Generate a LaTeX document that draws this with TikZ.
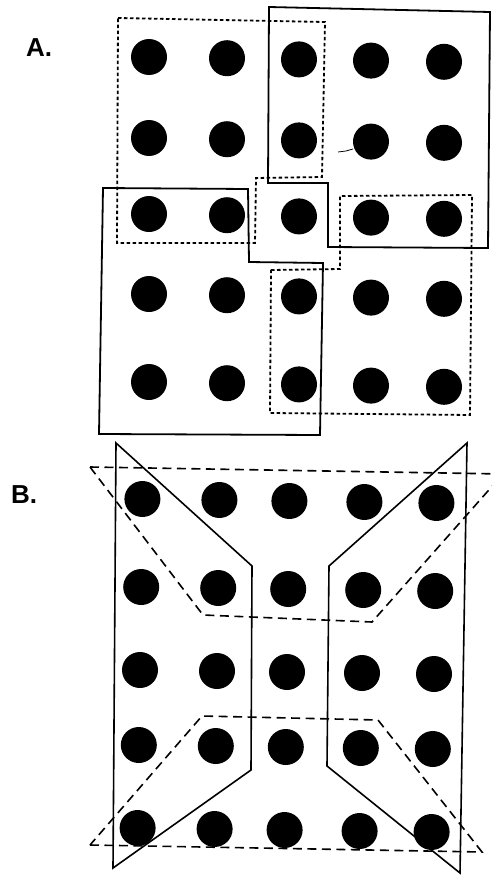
\documentclass[tikz,border=0pt]{standalone}
\usepackage{fontspec}
\setmainfont{Liberation Sans}

\begin{document}
\begin{tikzpicture}[
    x=1pt, y=-1pt,
    dot/.style={circle, fill=black, inner sep=0pt, minimum size=36pt},
    panel/.style={font=\bfseries\fontsize{26}{28}\selectfont, inner sep=0pt},
    wall/.style={line width=1.8pt, line join=miter},
    finedash/.style={line width=1.8pt, dash pattern=on 3.5pt off 2.5pt},
    longdash/.style={line width=1.6pt, dash pattern=on 9pt off 5.5pt}
]

\useasboundingbox (0,0) rectangle (492,875);
\clip (0,0) rectangle (492,875);

\node[panel] (labA) at (39,48) {A.};
\node[panel] (labB) at (24,495) {B.};

\foreach \j/\y in {1/57,2/138,3/214,4/294,5/382}
    \foreach \i/\x in {1/149,2/227,3/299,4/371,5/444}
        \node[dot] (a-\j-\i) at (\x, \y+\i*1.2-1.2) {};

\foreach \j/\y in {1/499,2/587,3/670,4/745,5/828}
    \foreach \i/\x in {1/140,2/217,3/287,4/362,5/434}
        \node[dot] (b-\j-\i) at (\x-\j*1.2+3.6, \y+\i*1-1) {};

% panel A
\draw[wall] (269,7) -- (490,12) -- (488,248) -- (328,247) -- (328,183) -- (268,183) -- cycle;
\draw[wall] (103,188) -- (248,189) -- (249,262) -- (323,263) -- (320,435) -- (99,434) -- cycle;
\draw[finedash] (118,18) -- (325,22) -- (322,177) -- (256,178) -- (255,243) -- (117,243) -- cycle;
\draw[finedash] (271,270) -- (340,269) -- (340,196) -- (472,195) -- (470,415) -- (270,413) -- cycle;
\draw[line width=0.8pt] (338,152) -- (346,151) -- (353,149);

% panel B
\draw[wall, line width=1.6pt] (116,443) -- (252,566) -- (251,770) -- (113,868) -- cycle;
\draw[wall, line width=1.6pt] (467,443) -- (329,566) -- (327,766) -- (460,873) -- cycle;
\draw[longdash] (90,467) -- (503,474) -- (372,622) -- (203,615) -- cycle;
\draw[longdash] (90,845) -- (482,852) -- (378,720) -- (202,716) -- cycle;

\end{tikzpicture}
\end{document}
